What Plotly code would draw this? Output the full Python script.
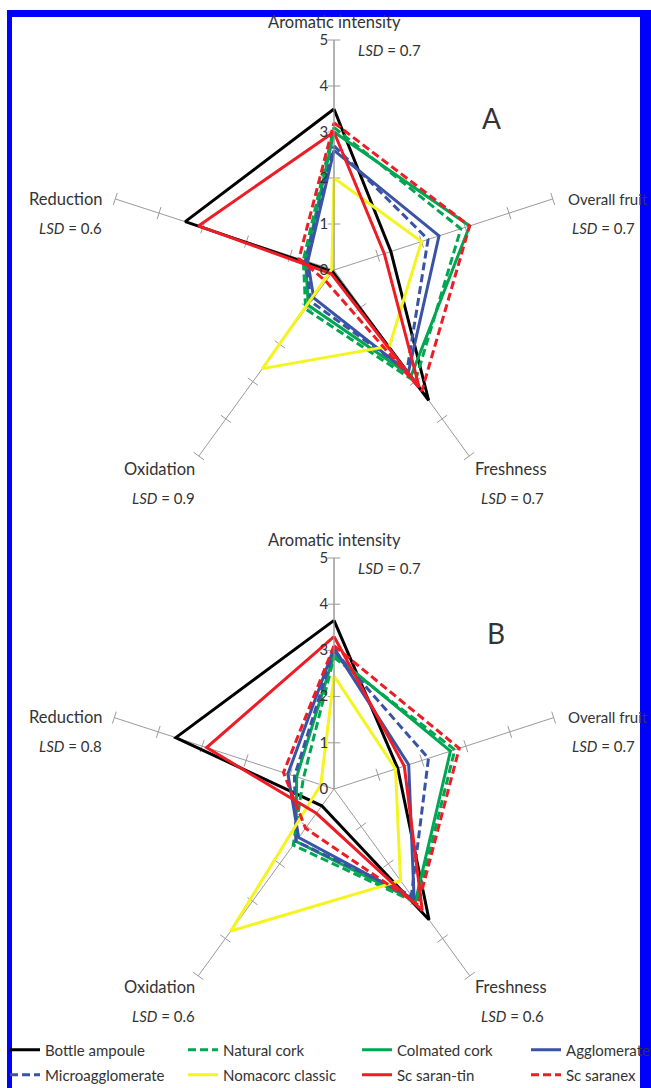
import plotly.graph_objects as go

# Sensory attributes (spokes, clockwise from top)
attributes = ["Aromatic intensity", "Overall fruit", "Freshness", "Oxidation", "Reduction"]
lsd_a = ["0.7", "0.7", "0.7", "0.9", "0.6"]
lsd_b = ["0.7", "0.7", "0.6", "0.6", "0.8"]
radial_ticks = [0, 1, 2, 3, 4, 5]

closures = ["Bottle ampoule", "Natural cork", "Colmated cork", "Agglomerate",
            "Microagglomerate", "Nomacorc classic", "Sc saran-tin", "Sc saranex"]

# Panel A scores (same attribute order)
bottle_ampoule_a = [3.5, 1.3, 3.5, 0.05, 3.4]
natural_cork_a = [3.1, 2.9, 3.0, 1.05, 0.7]
colmated_cork_a = [3.0, 3.1, 2.85, 0.95, 0.65]
agglomerate_a = [2.6, 2.4, 2.75, 0.75, 0.6]
microagglomerate_a = [2.7, 2.15, 2.7, 0.85, 0.65]
nomacorc_classic_a = [2.0, 2.0, 2.05, 2.65, 0.05]
sc_saran_tin_a = [3.0, 1.15, 3.15, 0.1, 3.1]
sc_saranex_a = [3.2, 3.1, 3.25, 0.3, 0.8]

# Panel B scores
bottle_ampoule_b = [3.65, 1.45, 3.5, 0.45, 3.6]
natural_cork_b = [2.85, 2.75, 3.05, 1.5, 0.7]
colmated_cork_b = [2.9, 2.65, 3.0, 1.4, 0.85]
agglomerate_b = [3.05, 1.7, 2.95, 1.3, 1.05]
microagglomerate_b = [3.0, 2.15, 2.85, 1.4, 0.9]
nomacorc_classic_b = [2.45, 1.4, 2.45, 3.8, 0.3]
sc_saran_tin_b = [3.3, 1.6, 3.25, 0.65, 2.9]
sc_saranex_b = [3.1, 2.85, 3.1, 1.05, 1.15]

panel_a = [bottle_ampoule_a, natural_cork_a, colmated_cork_a, agglomerate_a,
           microagglomerate_a, nomacorc_classic_a, sc_saran_tin_a, sc_saranex_a]
panel_b = [bottle_ampoule_b, natural_cork_b, colmated_cork_b, agglomerate_b,
           microagglomerate_b, nomacorc_classic_b, sc_saran_tin_b, sc_saranex_b]

GREEN = "#00A651"
BLUE = "#3A53A4"
RED = "#EE1C25"
YELLOW = "#F4F41E"
line_styles = [
    ("#000000", "solid"),
    (GREEN, "8px,4px"),
    (GREEN, "solid"),
    (BLUE, "solid"),
    (BLUE, "8px,4px"),
    (YELLOW, "solid"),
    (RED, "solid"),
    (RED, "8px,4px"),
]

W, H = 651, 1088
FONT = "Lato"
TEXT = "#333333"
GRID = "#9a9a9a"


def px(x):
    return x / W


def py(y):
    return 1 - y / H


fig = go.Figure()

# Tick marks across every spoke at each integer score
spoke_angles = [0, 72, 144, 216, 288]
for polar in ["polar", "polar2"]:
    th, rr, ang = [], [], []
    for a, ang_deg in zip(attributes, spoke_angles):
        for t in radial_ticks[1:]:
            th.append(a)
            rr.append(t)
            ang.append(ang_deg)
    fig.add_trace(go.Scatterpolar(
        r=rr, theta=th, mode="markers", subplot=polar, showlegend=False,
        hoverinfo="skip",
        marker=dict(symbol="line-ew", size=9, angle=ang,
                    line=dict(color=GRID, width=1)),
    ))

for i, name in enumerate(closures):
    color, dash = line_styles[i]
    for polar, data, show in [("polar", panel_a, True), ("polar2", panel_b, False)]:
        vals = data[i]
        fig.add_trace(go.Scatterpolar(
            r=vals + vals[:1], theta=attributes + attributes[:1],
            mode="lines", name=name, legendgroup=name, showlegend=show,
            legend="legend" if i == 0 else f"legend{i + 1}",
            subplot=polar,
            line=dict(color=color, width=3, dash=dash),
        ))


def polar_layout(cx, cy, rad):
    return dict(
        domain=dict(x=[px(cx - rad), px(cx + rad)], y=[py(cy + rad), py(cy - rad)]),
        bgcolor="white",
        radialaxis=dict(range=[0, 5], tickvals=radial_ticks, showgrid=False,
                        showline=True, linecolor=GRID, linewidth=1, ticks="",
                        angle=90, side="counterclockwise", tickangle=90,
                        tickfont=dict(family=FONT, size=15, color=TEXT)),
        angularaxis=dict(categoryarray=attributes, categoryorder="array",
                         rotation=90, direction="clockwise", showgrid=True,
                         gridcolor=GRID, gridwidth=1, showline=False,
                         showticklabels=False, ticks=""),
    )


annotations = []


def label(text, x, y, anchor="left", size=15):
    annotations.append(dict(text=text, x=px(x), y=py(y), xref="paper", yref="paper",
                            xanchor=anchor, yanchor="middle", showarrow=False,
                            font=dict(family=FONT, size=size, color=TEXT)))


def lsd(v):
    return f"<i>LSD</i> = {v}"


AX = 16.5
for dy, lsds, letter, lx, ly in [(0, lsd_a, "A", 492, 118), (518, lsd_b, "B", 496, 633)]:
    label(attributes[0], 334, 22 + dy, "center", AX)
    label(lsd(lsds[0]), 356, 50 + dy)
    label(attributes[1], 566, 199 + dy, size=15)
    label(lsd(lsds[1]), 570, 228 + dy)
    label(attributes[2], 473, 469 + dy, size=AX)
    label(lsd(lsds[2]), 479, 498 + dy)
    label(attributes[3], 197, 469 + dy, "right", AX)
    label(lsd(lsds[3]), 197, 498 + dy, "right")
    label(attributes[4], 105, 199 + dy, "right", AX)
    label(lsd(lsds[4]), 104, 228 + dy, "right")
    label(letter, lx, ly, "center", size=28)

# Legend entries laid out in two rows of four columns
legend_cols = [5, 183, 357, 526]
legend_rows = [1050, 1075]
legends = {}
for i in range(len(closures)):
    key = "legend" if i == 0 else f"legend{i + 1}"
    legends[key] = dict(x=px(legend_cols[i % 4]), y=py(legend_rows[i // 4]),
                        xanchor="left", yanchor="middle",
                        orientation="h", bgcolor="rgba(0,0,0,0)",
                        font=dict(family=FONT, size=15, color=TEXT))

# Blue frame
shapes = [
    dict(type="rect", xref="paper", yref="paper", x0=px(7), x1=px(12), y0=0, y1=py(10),
         fillcolor="#0000FF", line_width=0, layer="above"),
    dict(type="rect", xref="paper", yref="paper", x0=px(7), x1=1, y0=py(17), y1=py(10),
         fillcolor="#0000FF", line_width=0, layer="above"),
    dict(type="rect", xref="paper", yref="paper", x0=px(640), x1=1, y0=0, y1=py(10),
         fillcolor="#0000FF", line_width=0, layer="above"),
]

fig.update_layout(
    width=W, height=H, margin=dict(l=0, r=0, t=0, b=0, autoexpand=False),
    paper_bgcolor="white", plot_bgcolor="white",
    polar=polar_layout(334, 270, 230),
    polar2=polar_layout(334, 789, 231),
    annotations=annotations, shapes=shapes,
    **legends,
)

fig.write_html("out.html")
